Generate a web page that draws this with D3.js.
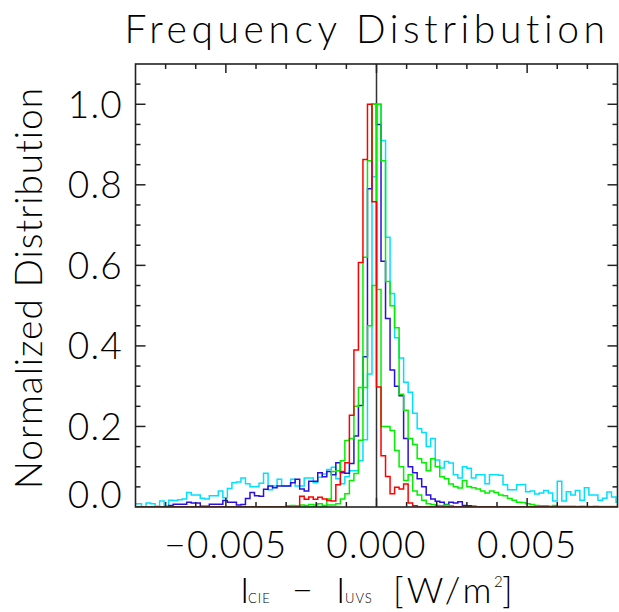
<!DOCTYPE html>
<html>
<head>
<meta charset="utf-8">
<script src="https://cdn.jsdelivr.net/npm/d3@7"></script>
<style>
  body { margin: 0; background: #fff; }
  svg { display: block; }
  text { font-family: "Lato", "DejaVu Sans", sans-serif; font-weight: 300; fill: #000; }
  .hist { fill: none; stroke-width: 1.5px; stroke-linejoin: miter; }
</style>
</head>
<body>
<script>
// histogram bins: width 0.00015, first bin starts at -54 * width
const binWidth = 0.00015;
const firstBin = -54;

// normalised counts per bin (bins -54 .. 53)
const redValues = [
  0,0,0,0,0,0,0,0,0,0, 0,0,0,0,0,0,0,0,0,0, 0,0,0,0,0,0,0,0,0,0, 0,0,0,0,0,0,0,
  0.027,0.019,0.025,0.019,0.024,0.02,0.016,0.015,0.055,0.088,0.11,0.228,0.39,0.607,0.863,1.0,0.758,
  0.298,0.127,0.076,0.033,0.049,0.045,0.057,0.01,0.003,
  0,0,0,0,0,0,0,0,0,0, 0,0,0,0,0,0,0,0,0,0, 0,0,0,0,0,0,0,0,0,0, 0,0,0,0,0,0,0,0,0,0, 0,0,0,0,0
];
const blueValues = [
  0,0,0,0,0,0,0,0,
  0.004,0.007,0.007,0.007,0.012,0.01,0.01,0.002,0.002,0.007,0.007,0.007,0.016,0.012,0.012,0.005,0.006,
  0.021,0.036,0.028,0.027,0.044,0.052,0.048,0.052,0.052,0.052,0.06,0.069,0.045,0.04,0.064,0.064,0.085,
  0.075,0.088,0.08,0.11,0.085,0.084,0.108,0.176,0.252,0.373,0.79,1.0,
  0.95,0.61,0.468,0.34,0.3,0.276,0.17,0.1,0.085,0.07,0.05,0.03,0.02,0.014,0.012,0.006,0.012,0.01,0.013,
  0.004,0.003,0.002,
  0,0,0,0,0,0,0,0,0,0, 0,0,0,0,0,0,0,0,0,0, 0,0,0,0,0,0,0,0,0,0, 0,0
];
const cyanValues = [
  0.008,0.008,0.0,0.01,0.008,0.002,0.015,0.002,0.017,0.016,0.018,0.02,0.036,0.03,0.03,0.022,0.02,
  0.028,0.028,0.04,0.023,0.046,0.06,0.062,0.072,0.058,0.05,0.05,0.059,0.084,0.043,0.052,0.069,0.052,
  0.052,0.069,0.052,0.052,0.072,0.072,0.06,0.074,0.082,0.093,0.099,0.07,0.058,0.075,0.09,0.09,0.115,
  0.167,0.33,0.82,
  1.0,0.91,0.67,0.53,0.42,0.37,0.31,0.285,0.233,0.194,0.185,0.15,0.17,0.117,0.097,0.113,0.109,0.08,
  0.072,0.1,0.096,0.072,0.08,0.08,0.058,0.08,0.08,0.079,0.055,0.043,0.043,0.055,0.056,0.038,0.04,
  0.032,0.035,0.041,0.035,0.015,0.064,0.015,0.038,0.03,0.041,0.017,0.048,0.03,0.03,0.017,0.022,
  0.037,0.025,0.012
];
const greenAValues = [
  0,0,0,0,0,0,0,0,0,0, 0,0,0,0,0,0,0,0,0,0, 0,0,0,0,0,0,0,0,0,0, 0,0,0,0,0,0,0,0,0,0, 0,0,
  0.002,0.005,0.005,0.008,0.02,0.033,0.066,0.083,0.166,0.297,0.45,0.55,
  1.0,0.86,0.56,0.5,0.445,0.28,0.24,0.17,0.155,0.12,0.11,0.09,0.12,0.1,0.075,0.07,0.057,0.05,0.047,
  0.066,0.05,0.048,0.045,0.04,0.035,0.04,0.036,0.03,0.028,0.021,0.017,0.012,0.011,0.008,0.006,0.004,
  0.003,0.003,0.002,0.004,0.002,0.002,0.002,0.002,0.001,0.002,0.001,0.001,0.002,0.001,0.001,0.001,0.001,0.001
];
const greenBValues = [
  0,0,0,0,0,0,0,0,0,0, 0,0,0,0,0,0,0,0,0,0, 0,0,0,0,0,0,0,0,0,0, 0,0,0,0,
  0.003,0.004,0.003,0.005,0.004,0.006,0.005,0.008,0.004,0.02,0.088,0.09,0.115,0.165,0.17,0.25,0.297,
  0.62,0.86,1.0,
  0.54,0.2,0.2,0.19,0.14,0.1,0.066,0.08,0.04,0.03,0.017,0.008,0.006,0.004,0.003,0.005,0.003,
  0,0,0,0,0,0,0,0,0,0, 0,0,0,0,0,0,0,0,0,0, 0,0,0,0,0,0,0,0,0,0, 0,0,0,0,0,0,0
];

const series = [
  { name: "cyan", values: cyanValues, color: "#00e0ff" },
  { name: "blue", values: blueValues, color: "#2a10e0" },
  { name: "greenA", values: greenAValues, color: "#00f000" },
  { name: "greenB", values: greenBValues, color: "#00f000" },
  { name: "red", values: redValues, color: "#ff0000" }
];

const xTicks = [-0.005, 0.0, 0.005];
const xTickLabels = ["\u22120.005", "0.000", "0.005"];
const yTicks = [0.0, 0.2, 0.4, 0.6, 0.8, 1.0];
const yTickLabels = ["0.0", "0.2", "0.4", "0.6", "0.8", "1.0"];

const W = 619, H = 612;
const margin = { top: 64, right: 1.5, bottom: 105, left: 135.5 };

const x = d3.scaleLinear().domain([-0.008, 0.008]).range([margin.left, W - margin.right]);
const y = d3.scaleLinear().domain([0, 1.1]).range([H - margin.bottom, margin.top]);

const svg = d3.select("body").append("svg").attr("width", W).attr("height", H);

svg.append("defs").append("clipPath").attr("id", "plotclip")
  .append("rect")
  .attr("x", x.range()[0]).attr("y", y.range()[1])
  .attr("width", x.range()[1] - x.range()[0])
  .attr("height", y.range()[0] - y.range()[1]);

// zero line
svg.append("line")
  .attr("x1", x(0)).attr("x2", x(0))
  .attr("y1", y.range()[0]).attr("y2", y.range()[1])
  .attr("stroke", "#333").attr("stroke-width", 1.5);

const line = d3.line()
  .x((d) => x(d[0]))
  .y((d) => y(d[1]))
  .curve(d3.curveStepAfter);

const plot = svg.append("g").attr("clip-path", "url(#plotclip)");
series.forEach((s) => {
  const pts = s.values.map((v, i) => [(firstBin + i) * binWidth, v]);
  const last = s.values.length;
  pts.push([(firstBin + last) * binWidth, s.values[last - 1]]);
  plot.append("path").datum(pts)
    .attr("class", "hist")
    .attr("stroke", s.color)
    .attr("d", line);
});

// frame
svg.append("rect")
  .attr("x", x.range()[0]).attr("y", y.range()[1])
  .attr("width", x.range()[1] - x.range()[0])
  .attr("height", y.range()[0] - y.range()[1])
  .attr("fill", "none").attr("stroke", "#222").attr("stroke-width", 1.6);

// ticks (inward, on all four sides)
const ticks = svg.append("g").attr("stroke", "#222").attr("stroke-width", 1.5);
const xMinor = d3.range(-7, 8).map((k) => k * 0.001);
xMinor.forEach((t) => {
  const major = xTicks.some((m) => Math.abs(m - t) < 1e-9);
  const len = major ? 9 : 5;
  ticks.append("line").attr("x1", x(t)).attr("x2", x(t))
    .attr("y1", y.range()[0]).attr("y2", y.range()[0] - len);
  ticks.append("line").attr("x1", x(t)).attr("x2", x(t))
    .attr("y1", y.range()[1]).attr("y2", y.range()[1] + len);
});
const yMinor = d3.range(1, 22).map((k) => k * 0.05);
yMinor.forEach((t) => {
  const major = yTicks.some((m) => Math.abs(m - t) < 1e-9);
  const len = major ? 10 : 5;
  ticks.append("line").attr("y1", y(t)).attr("y2", y(t))
    .attr("x1", x.range()[0]).attr("x2", x.range()[0] + len);
  ticks.append("line").attr("y1", y(t)).attr("y2", y(t))
    .attr("x1", x.range()[1]).attr("x2", x.range()[1] - len);
});

// tick labels
svg.append("g").selectAll("text").data(xTicks).join("text")
  .attr("x", (d) => x(d))
  .attr("y", 558)
  .attr("text-anchor", "middle")
  .attr("font-size", 37)
  .attr("letter-spacing", 1.2)
  .text((d, i) => xTickLabels[i]);

svg.append("g").selectAll("text").data(yTicks).join("text")
  .attr("x", 123)
  .attr("y", (d) => (d === 0 ? y(d) + 1 : y(d) + 13.5))
  .attr("text-anchor", "end")
  .attr("font-size", 37)
  .attr("letter-spacing", 1.2)
  .text((d, i) => yTickLabels[i]);

// title
svg.append("text")
  .attr("x", 367).attr("y", 43)
  .attr("text-anchor", "middle")
  .attr("font-size", 39)
  .attr("letter-spacing", 4.6)
  .text("Frequency Distribution");

// y axis title
svg.append("text")
  .attr("transform", `translate(42, 288) rotate(-90)`)
  .attr("text-anchor", "middle")
  .attr("font-size", 37)
  .attr("letter-spacing", 1)
  .text("Normalized Distribution");

// x axis title, pieces placed along the baseline
const xt = svg.append("text").attr("y", 603).attr("font-size", 36);
xt.append("tspan").attr("x", 240).text("I");
xt.append("tspan").attr("x", 248).attr("font-size", 13).attr("letter-spacing", 1).text("CIE");
xt.append("tspan").attr("x", 292).text("\u2212");
xt.append("tspan").attr("x", 336).text("I");
xt.append("tspan").attr("x", 345).attr("font-size", 13).attr("letter-spacing", 1).text("UVS");
xt.append("tspan").attr("x", 393).attr("letter-spacing", 3).text("[W/m");
xt.append("tspan").attr("x", 494).attr("font-size", 15).attr("dy", -16).text("2");
xt.append("tspan").attr("x", 502).attr("dy", 16).text("]");
</script>
</body>
</html>
